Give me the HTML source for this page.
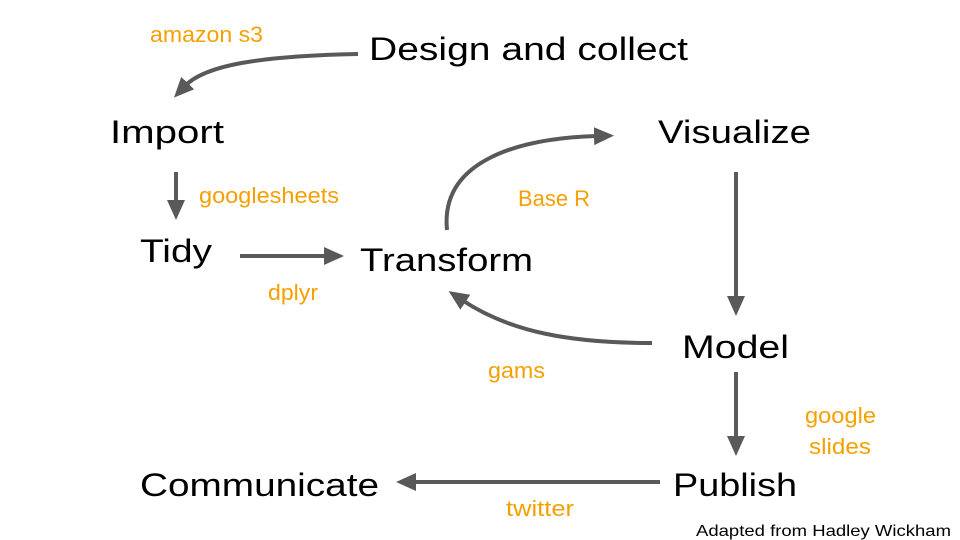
<!DOCTYPE html>
<html><head><meta charset="utf-8"><style>
html,body{margin:0;padding:0;background:#fff;}
svg{display:block}
.m{font-family:"Liberation Sans",sans-serif;font-size:32px;fill:#000}
.o{font-family:"Liberation Sans",sans-serif;font-size:22px;fill:#f5a000}
path,line{stroke:#595959;stroke-width:4;fill:none}
</style></head><body>
<svg width="960" height="540" viewBox="0 0 960 540" xmlns="http://www.w3.org/2000/svg">
<defs>
<marker id="a" markerUnits="userSpaceOnUse" markerWidth="22" markerHeight="20" refX="4" refY="10" orient="auto">
<path d="M0,1 L20,10 L0,19 Z" style="fill:#595959;stroke:none"/>
</marker>
</defs>
<text class="m" x="369" y="60" textLength="319" lengthAdjust="spacingAndGlyphs">Design and collect</text>
<text class="m" x="110" y="143" textLength="114" lengthAdjust="spacingAndGlyphs">Import</text>
<text class="m" x="140" y="262" textLength="72" lengthAdjust="spacingAndGlyphs">Tidy</text>
<text class="m" x="360" y="271" textLength="173" lengthAdjust="spacingAndGlyphs">Transform</text>
<text class="m" x="658" y="143" textLength="153" lengthAdjust="spacingAndGlyphs">Visualize</text>
<text class="m" x="682" y="358" textLength="107" lengthAdjust="spacingAndGlyphs">Model</text>
<text class="m" x="673" y="496" textLength="124" lengthAdjust="spacingAndGlyphs">Publish</text>
<text class="m" x="140" y="496" textLength="239" lengthAdjust="spacingAndGlyphs">Communicate</text>
<text x="696" y="536" style="font-family:'Liberation Sans',sans-serif;font-size:16px" textLength="255" lengthAdjust="spacingAndGlyphs">Adapted from Hadley Wickham</text>

<text class="o" x="150" y="42" textLength="113" lengthAdjust="spacingAndGlyphs">amazon s3</text>
<text class="o" x="199" y="203" textLength="140" lengthAdjust="spacingAndGlyphs">googlesheets</text>
<text class="o" x="518" y="206" textLength="72" lengthAdjust="spacingAndGlyphs">Base R</text>
<text class="o" x="268" y="300" textLength="50" lengthAdjust="spacingAndGlyphs">dplyr</text>
<text class="o" x="488" y="378" textLength="57" lengthAdjust="spacingAndGlyphs">gams</text>
<text class="o" x="805" y="423" textLength="71" lengthAdjust="spacingAndGlyphs">google</text>
<text class="o" x="809" y="454" textLength="62" lengthAdjust="spacingAndGlyphs">slides</text>
<text class="o" x="506" y="516" textLength="68" lengthAdjust="spacingAndGlyphs">twitter</text>

<path d="M358,54 C260,56 205,65 185,86" marker-end="url(#a)"/>
<line x1="176" y1="172" x2="176" y2="204" marker-end="url(#a)"/>
<line x1="240" y1="256" x2="328" y2="256" marker-end="url(#a)"/>
<path d="M447,230 C440,160 520,138 598,136" marker-end="url(#a)"/>
<line x1="736" y1="172" x2="736" y2="300" marker-end="url(#a)"/>
<path d="M652,343 C570,343 510,332 462,300" marker-end="url(#a)"/>
<line x1="736" y1="372" x2="736" y2="440" marker-end="url(#a)"/>
<line x1="660" y1="482" x2="412" y2="482" marker-end="url(#a)"/>
</svg>
</body></html>
